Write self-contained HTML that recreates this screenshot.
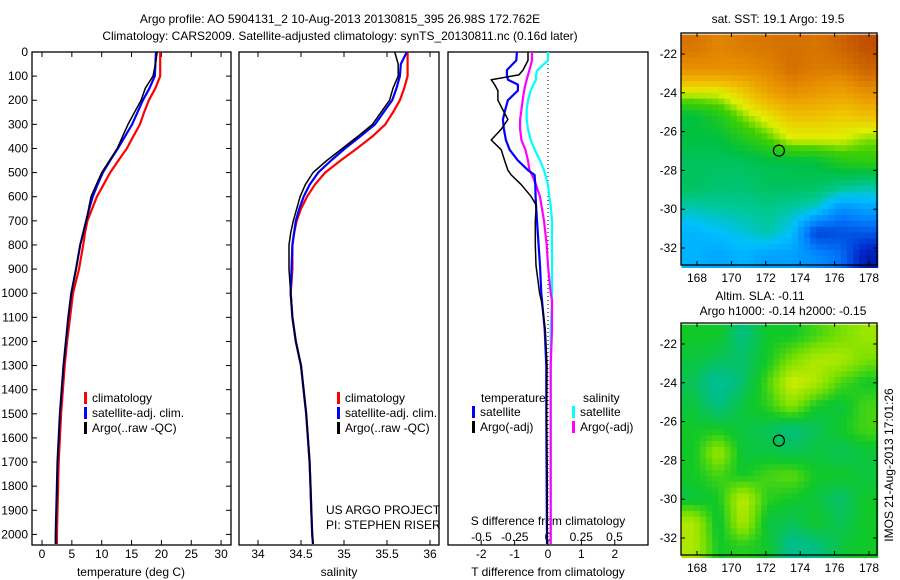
<!DOCTYPE html>
<html><head><meta charset="utf-8"><style>
body{margin:0;background:#fff}
svg{display:block;font-family:"Liberation Sans",sans-serif;font-size:12px}
</style></head><body>
<svg id="c" width="900" height="580" viewBox="0 0 900 580" xmlns="http://www.w3.org/2000/svg">
<text x="340" y="23" text-anchor="middle">Argo profile: AO 5904131_2 10-Aug-2013 20130815_395 26.98S 172.762E</text>
<text x="340" y="40" text-anchor="middle">Climatology: CARS2009. Satellite-adjusted climatology: synTS_20130811.nc (0.16d later)</text>
<g id="g"></g>
</svg>
<script>
const depths=[0,50,100,150,200,250,300,350,400,450,500,550,600,650,700,750,800,900,1000,1100,1200,1300,1400,1500,1600,1700,1800,1900,2000,2040];
const tempClim=[19.8,19.8,19.8,19.0,17.9,17.1,16.4,15.3,14.2,12.8,11.4,10.3,9.2,8.4,7.6,7.2,6.9,6.2,5.2,4.7,4.2,3.8,3.5,3.2,3.0,2.8,2.7,2.6,2.5,2.5];
const tempSat=[19.1,19.0,18.9,18.0,16.9,16.0,15.1,13.9,12.7,11.4,10.2,9.3,8.5,7.9,7.4,6.9,6.4,5.7,4.9,4.4,4.0,3.6,3.3,3.0,2.8,2.6,2.5,2.4,2.3,2.3];
const tempArgo=[19.3,19.0,18.6,17.3,16.6,15.5,14.4,13.5,12.6,11.3,10.0,9.1,8.2,7.8,7.4,6.9,6.4,5.7,4.9,4.4,4.0,3.6,3.3,3.0,2.8,2.6,2.5,2.4,2.3,2.3];
const salClim=[35.74,35.74,35.74,35.70,35.65,35.57,35.48,35.33,35.15,34.96,34.78,34.66,34.57,34.50,34.45,34.42,34.40,34.40,34.38,34.40,34.44,34.50,34.53,34.56,34.58,34.60,34.61,34.62,34.63,34.64];
const salSat=[35.73,35.66,35.65,35.61,35.56,35.46,35.36,35.19,35.01,34.85,34.70,34.60,34.53,34.48,34.44,34.42,34.40,34.39,34.38,34.40,34.44,34.50,34.53,34.56,34.58,34.60,34.61,34.62,34.63,34.64];
const salArgo=[35.59,35.63,35.63,35.57,35.53,35.43,35.33,35.16,34.98,34.80,34.64,34.55,34.49,34.45,34.41,34.38,34.36,34.36,34.38,34.40,34.44,34.50,34.53,34.56,34.58,34.60,34.61,34.62,34.63,34.64];
const diffDepths=[0,35,75,95,115,135,160,200,240,280,320,365,405,450,490,510,550,600,635,700,800,885,1000,1030,1150,1300,1500,1800,2040];
const dTSat=[-0.93,-0.95,-1.23,-1.23,-1.2,-0.9,-0.9,-1.2,-1.28,-1.35,-1.32,-1.26,-1.15,-0.9,-0.6,-0.4,-0.38,-0.37,-0.36,-0.33,-0.28,-0.24,-0.2,-0.18,-0.1,-0.05,-0.05,-0.04,-0.03];
const dTArgo=[-0.6,-0.6,-0.75,-0.87,-1.7,-1.6,-1.5,-1.5,-1.35,-1.2,-1.4,-1.7,-1.4,-1.3,-1.2,-1.1,-0.8,-0.5,-0.35,-0.38,-0.38,-0.36,-0.25,-0.2,-0.08,-0.03,-0.04,-0.02,-0.02];
const dSArgo=[-0.12,-0.12,-0.14,-0.15,-0.16,-0.17,-0.18,-0.19,-0.2,-0.21,-0.21,-0.2,-0.17,-0.15,-0.14,-0.12,-0.09,-0.06,-0.05,-0.03,-0.01,0,0.02,0.03,0.03,0.02,0.02,0.02,0.02];
const dSSat=[0,0,-0.08,-0.09,-0.09,-0.11,-0.13,-0.15,-0.16,-0.16,-0.15,-0.13,-0.1,-0.06,-0.03,-0.02,0,0.01,0.02,0.03,0.03,0.03,0.03,0.03,0.02,0.02,0.02,0.02,0.02];
const depthTicks=[0,100,200,300,400,500,600,700,800,900,1000,1100,1200,1300,1400,1500,1600,1700,1800,1900,2000];
const tempTicks=[0,5,10,15,20,25,30];
const salTicks=[34,34.5,35,35.5,36];
const dTTicks=[-2,-1,0,1,2];
const dSTicks=[-0.5,-0.25,0,0.25,0.5];
const dSTickLabels=["-0.5","-0.25","0","0.25","0.5"];
const latTicks=[-22,-24,-26,-28,-30,-32];
const lonTicks=[168,170,172,174,176,178];
const sstGrid=[
[.85,.82,.84,.85,.86,.85,.88,.92],
[.8,.8,.8,.82,.86,.84,.84,.88],
[.62,.62,.68,.76,.8,.78,.76,.8],
[.45,.5,.58,.64,.7,.7,.68,.7],
[.45,.45,.5,.55,.62,.62,.62,.58],
[.42,.42,.42,.44,.44,.45,.5,.52],
[.42,.4,.4,.42,.42,.42,.38,.36],
[.34,.35,.36,.37,.35,.32,.22,.25],
[.28,.3,.32,.35,.3,.12,.14,.15],
[.28,.26,.28,.25,.25,.22,.18,.06]];
const slaGrid=[
[.5,.5,.3,.5,.5,.6,.7,.8],
[.45,.4,.35,.5,.7,.85,.85,.7],
[.4,.2,.35,.6,.95,.85,.6,.5],
[.45,.3,.45,.55,.75,.5,.45,.6],
[.5,.5,.45,.4,.3,.4,.5,.6],
[.5,.8,.45,.45,.4,.45,.4,.45],
[.5,.6,.5,.6,.65,.5,.5,.45],
[.45,.5,.9,.55,.5,.45,.35,.5],
[.85,.45,.85,.45,.4,.5,.4,.5],
[.85,.5,.55,.5,.25,.3,.45,.5]];

const NS="http://www.w3.org/2000/svg";
const G=document.getElementById('g');
function mk(tag,attrs,parent){const e=document.createElementNS(NS,tag);for(const k in attrs)e.setAttribute(k,attrs[k]);(parent||G).appendChild(e);return e;}
function txt(x,y,s,anchor,name){const t=mk('text',{x:x,y:y,'text-anchor':anchor||'middle'});t.textContent=s;


return t;}
const PT=52,PB=545;
const yD=d=>PT+d*0.2412;
const xT=v=>42+v*5.97;
const xS=v=>258+(v-34)*86;
const xDT=v=>548+v*33.4;
const xDS=v=>548+v*133;

function frame(x0,x1,name){const r=mk('rect',{x:x0,y:PT,width:x1-x0,height:PB-PT,fill:'none',stroke:'#000','stroke-width':1.3});

}
function line(ds,vs,fx,fy,col,w,name){const p=mk('polyline',{points:ds.map((d,i)=>fx(vs[i]).toFixed(1)+','+fy(d).toFixed(1)).join(' '),fill:'none',stroke:col,'stroke-width':w,'stroke-linejoin':'round'});

}
function xticks(ticks,fx,labels,ly,name,both){ticks.forEach((t,i)=>{const x=fx(t);mk('line',{x1:x,x2:x,y1:PB,y2:PB-5,stroke:'#000'});if(both)mk('line',{x1:x,x2:x,y1:PT,y2:PT+5,stroke:'#000'});txt(x,ly,labels[i],'middle',name);});}

frame(32,231,'temperature-panel');
depthTicks.forEach(d=>{const y=yD(d);mk('line',{x1:32,x2:37,y1:y,y2:y,stroke:'#000'});mk('line',{x1:226,x2:231,y1:y,y2:y,stroke:'#000'});txt(28,y+4,String(d),'end','depth-tick-label');});
xticks(tempTicks,xT,tempTicks.map(String),558,'temperature-tick-label',true);
txt(131,576,'temperature (deg C)','middle','temperature-axis-title');
line(depths,tempClim,xT,yD,'#f00',2.2,'temperature-climatology-line');
line(depths,tempSat,xT,yD,'#00f',2.2,'temperature-satellite-line');
line(depths,tempArgo,xT,yD,'#000',1.5,'temperature-argo-line');

frame(239,439,'salinity-panel');
xticks(salTicks,xS,["34","34.5","35","35.5","36"],558,'salinity-tick-label',true);
txt(339,576,'salinity','middle','salinity-axis-title');
line(depths,salClim,xS,yD,'#f00',2.2,'salinity-climatology-line');
line(depths,salSat,xS,yD,'#00f',2.2,'salinity-satellite-line');
line(depths,salArgo,xS,yD,'#000',1.5,'salinity-argo-line');

function legend(x,y,items,prefix){items.forEach((it,i)=>{const yy=y+i*15;mk('rect',{x:x,y:yy-10,width:3,height:12,fill:it[0]});txt(x+8,yy,it[1],'start',prefix+'-legend-entry');});}
legend(84,402,[['#f00','climatology'],['#00f','satellite-adj. clim.'],['#000','Argo(..raw -QC)']],'panel1');
legend(337,402,[['#f00','climatology'],['#00f','satellite-adj. clim.'],['#000','Argo(..raw -QC)']],'panel2');
txt(326,514,'US ARGO PROJECT','start','project-credit');
txt(326,529,'PI: STEPHEN RISER','start','pi-credit');

frame(448,648,'difference-panel');
const zl=mk('line',{x1:548,x2:548,y1:PT,y2:PB,stroke:'#000','stroke-dasharray':'1,3'});


xticks(dTTicks,xDT,dTTicks.map(String),558,'t-diff-tick-label',false);
dSTicks.forEach((t,i)=>txt(xDS(t),541,dSTickLabels[i],'middle','s-diff-tick-label'));
txt(548,525,'S difference from climatology','middle','s-diff-axis-title');
txt(548,576,'T difference from climatology','middle','t-diff-axis-title');
line(diffDepths,dSSat,xDS,yD,'#0ff',2.2,'salinity-satellite-diff-line');
line(diffDepths,dSArgo,xDS,yD,'#f0f',2.2,'salinity-argo-diff-line');
line(diffDepths,dTSat,xDT,yD,'#00f',2.2,'temperature-satellite-diff-line');
line(diffDepths,dTArgo,xDT,yD,'#000',1.5,'temperature-argo-diff-line');
txt(481,402,'temperature','start','diff-legend-temperature-header');
txt(583,402,'salinity','start','diff-legend-salinity-header');
legend(472,416,[['#00f','satellite'],['#000','Argo(-adj)']],'temperature');
legend(572,416,[['#0ff','satellite'],['#f0f','Argo(-adj)']],'salinity');

function interp(stops,v){v=Math.max(0,Math.min(1,v));for(let i=1;i<stops.length;i++){if(v<=stops[i][0]){const a=stops[i-1],b=stops[i],f=(v-a[0])/(b[0]-a[0]);const c=[0,1,2].map(k=>Math.round(a[1][k]+(b[1][k]-a[1][k])*f));return 'rgb('+c.join(',')+')';}}return 'rgb('+stops[stops.length-1][1].join(',')+')';}
const sstStops=[[0,[0,0,128]],[0.1,[0,48,208]],[0.2,[0,128,255]],[0.3,[0,192,255]],[0.36,[0,200,150]],[0.45,[0,192,64]],[0.55,[64,208,0]],[0.62,[224,240,0]],[0.7,[240,192,0]],[0.8,[232,144,0]],[0.92,[192,80,0]],[1,[170,50,0]]];
const slaStops=[[0,[0,200,190]],[0.3,[0,190,130]],[0.5,[16,200,40]],[0.7,[120,224,0]],[1,[230,240,0]]];
function sample(grid,r,c){const nr=grid.length,nc=grid[0].length;r=Math.max(0,Math.min(nr-1,r));c=Math.max(0,Math.min(nc-1,c));
 const r0=Math.floor(r),c0=Math.floor(c),r1=Math.min(nr-1,r0+1),c1=Math.min(nc-1,c0+1),fr=r-r0,fc=c-c0;
 return grid[r0][c0]*(1-fr)*(1-fc)+grid[r0][c1]*(1-fr)*fc+grid[r1][c0]*fr*(1-fc)+grid[r1][c1]*fr*fc;}
function map(top,grid,stops,name){
 const x0=681,x1=877,y0=top,y1=top+232;
 const fx=lon=>697+(lon-168)*17.2, fy=lat=>top+21+(-22-lat)*19.4;
 const nr=grid.length,nc=grid[0].length,lon0=167.1,lon1=178.5,lat0=-21,lat1=-33,S=4;
 for(let r=0;r<nr*S;r++)for(let c=0;c<nc*S;c++){
  const v=sample(grid,(r+0.5)/S-0.5,(c+0.5)/S-0.5);
  const xa=fx(lon0+(lon1-lon0)*c/(nc*S)),xb=fx(lon0+(lon1-lon0)*(c+1)/(nc*S)),ya=fy(lat0+(lat1-lat0)*r/(nr*S)),yb=fy(lat0+(lat1-lat0)*(r+1)/(nr*S));
  const rc=mk('rect',{x:xa.toFixed(1),y:ya.toFixed(1),width:(xb-xa+0.6).toFixed(1),height:(yb-ya+0.6).toFixed(1),fill:interp(stops,v)});
  
  
 }
 const f=mk('rect',{x:x0,y:y0,width:x1-x0,height:y1-y0,fill:'none',stroke:'#000','stroke-width':1.3});
 
 
 latTicks.forEach(l=>{const y=fy(l);mk('line',{x1:x0,x2:x0+4,y1:y,y2:y,stroke:'#000'});mk('line',{x1:x1-4,x2:x1,y1:y,y2:y,stroke:'#000'});txt(x0-4,y+4,String(l),'end',name+'-lat-label');});
 lonTicks.forEach(l=>{const x=fx(l);mk('line',{x1:x,x2:x,y1:y1,y2:y1-4,stroke:'#000'});mk('line',{x1:x,x2:x,y1:y0,y2:y0+4,stroke:'#000'});txt(x,y1+17,String(l),'middle',name+'-lon-label');});
 const ci=mk('circle',{cx:fx(172.762),cy:fy(-26.98),r:5.5,fill:'none',stroke:'#000','stroke-width':1.2});
 
 
}
map(33,sstGrid,sstStops,'sst-map');
txt(778,23,'sat. SST: 19.1 Argo: 19.5','middle','sst-map-title');
map(323,slaGrid,slaStops,'sla-map');
txt(760,300,'Altim. SLA: -0.11','middle','sla-map-title');
txt(783,315,'Argo h1000: -0.14 h2000: -0.15','middle','sla-map-subtitle');
const rt=txt(0,0,'IMOS 21-Aug-2013 17:01:26','middle','imos-timestamp');
rt.setAttribute('transform','translate(893,465) rotate(-90)');
</script>
</body></html>
